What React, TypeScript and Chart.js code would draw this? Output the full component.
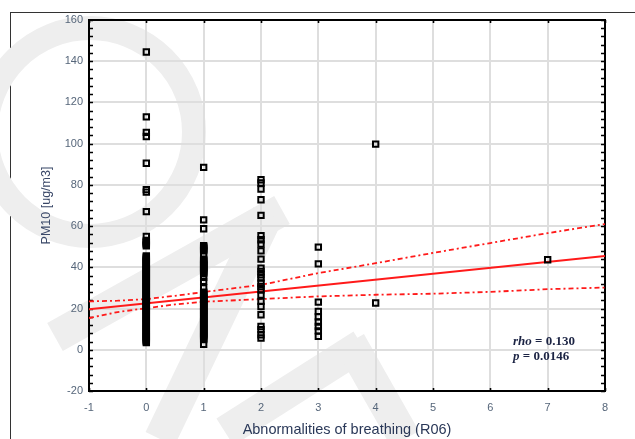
import React, { useEffect, useRef } from 'react';
import { Chart, registerables } from 'chart.js';

Chart.register(...registerables);

// ---- Data ----
const xTickValues = [-1, 0, 1, 2, 3, 4, 5, 6, 7, 8];
const yTickValues = [-20, 0, 20, 40, 60, 80, 100, 120, 140, 160];

const pm10AtR0 = [144.5, 113, 105.5, 103.5, 90.5, 77.7, 76.5, 67,
  55, 53, 52.5, 52, 51.5, 51, 50.5,
  45.5, 45, 44.5, 44, 43.5, 43, 42.5, 42, 41.5, 41, 40.5, 40, 39.5, 39, 38.5, 38,
  37.5, 37, 36.5, 36, 35.5, 35, 34.5, 34, 33.5, 33, 32.5, 32, 31.5, 31, 30.5, 30,
  29.5, 29, 28.5, 28, 27.5, 27, 26.5, 26, 25.5, 25, 24.5, 24, 23.5, 23, 22.5, 22,
  21.5, 21, 20.5, 20, 19.5, 19, 18.5, 18, 17.5, 17, 16.5, 16, 15.5, 15, 14.5, 14,
  13.5, 13, 12.5, 12, 11.5, 11, 10.5, 10, 9.5, 9, 8.5, 8, 7.5, 7, 6.5, 6, 5.5, 5,
  4.5, 4, 3.5];
const pm10AtR1 = [88.5, 63, 58.7,
  50.5, 50, 49.5, 49, 48.5, 48, 46,
  44, 43.5, 43, 42.5, 42, 41.5, 41, 40.5, 40, 39.5, 39, 38.5, 38, 37.5, 37,
  35.2, 33.2, 30,
  28, 27.5, 27, 26.5, 26, 25.5, 25, 24.5, 24, 23.5, 23, 22.5, 22, 21.5, 21, 20.5,
  20, 19.5, 19, 18.5, 18, 17.5, 17, 16.5, 16, 15.5, 15, 14.5, 14, 13.5, 13, 12.5,
  12, 11.5, 11, 10.5, 10, 9.5, 9, 8.5, 8, 7.5, 7, 6.5, 6, 5.5, 5, 2.6];
const pm10AtR2 = [82.5, 80.9, 78, 72.8, 65.2, 55.3, 53.4, 51.3, 48, 44, 39.6, 38,
  36.4, 34.8, 32.4, 30.7, 29.1, 26.5, 23.5, 21, 17, 11.3, 9.7, 7.3, 5.7];
const pm10AtR3 = [49.8, 41.7, 23.1, 18.6, 16, 13.5, 11.3, 9.2, 6.5];
const pm10AtR4 = [99.8, 22.7];
const pm10AtR7 = [43.7];

const regX = [-1, 8];
const regY = [19.6, 45.5];

const bandX = [-1, -0.5, 0, 0.5, 1, 2, 3, 4, 5, 6, 7, 8];
const bandUpper = [23.5, 23.8, 24.6, 26.2, 28, 31.5, 37.2, 42, 47, 51.8, 56.6, 61];
const bandLower = [15.4, 18.3, 20.2, 22.0, 23.3, 24.6, 25.9, 26.7, 27.2, 28.1, 29.4, 30.2];

const xTitle = 'Abnormalities of breathing (R06)';
const yTitle = 'PM10 [ug/m3]';
const statLines = [['rho', ' = 0.130'], ['p', ' = 0.0146']];

const FONT = '"Liberation Sans", Arial, sans-serif';

const toPts = (x: number, ys: number[]) => ys.map((y) => ({ x, y }));

const watermarkPlugin = {
  id: 'watermark',
  beforeDraw(chart: any) {
    const ctx = chart.ctx;
    ctx.save();
    ctx.strokeStyle = '#eeeeee';
    ctx.lineCap = 'butt';
    ctx.lineWidth = 24;
    ctx.beginPath();
    ctx.arc(90, 132, 104, 0, Math.PI * 2);
    ctx.stroke();
    ctx.lineWidth = 32;
    const strokes = [
      [[55, 337], [282, 210]],
      [[268, 214], [160, 439]],
      [[225, 432], [362, 345]],
      [[350, 342], [405, 439]],
    ];
    strokes.forEach(([a, b]) => {
      ctx.beginPath();
      ctx.moveTo(a[0], a[1]);
      ctx.lineTo(b[0], b[1]);
      ctx.stroke();
    });
    ctx.restore();
  },
};

const framePlugin = {
  id: 'frameTicks',
  beforeDatasetsDraw(chart: any) {
    const { ctx, chartArea: ca, scales } = chart;
    const xs = scales.x;
    const ys = scales.y;
    ctx.save();
    ctx.strokeStyle = '#000';
    ctx.lineWidth = 1.6;
    for (let v = ys.min; v <= ys.max + 0.001; v += 4) {
      const py = Math.round(ys.getPixelForValue(v)) + 0.5;
      ctx.beginPath();
      ctx.moveTo(ca.left, py);
      ctx.lineTo(ca.left + 4, py);
      ctx.moveTo(ca.right, py);
      ctx.lineTo(ca.right - 4, py);
      ctx.stroke();
    }
    xTickValues.forEach((v) => {
      const px = Math.round(xs.getPixelForValue(v)) + 0.5;
      ctx.beginPath();
      ctx.moveTo(px, ca.bottom);
      ctx.lineTo(px, ca.bottom - 3);
      ctx.moveTo(px, ca.top);
      ctx.lineTo(px, ca.top + 3);
      ctx.stroke();
    });
    ctx.lineWidth = 2;
    ctx.strokeRect(ca.left, ca.top, ca.right - ca.left, ca.bottom - ca.top);
    ctx.restore();
  },
  afterDraw(chart: any) {
    const { ctx, chartArea: ca } = chart;
    ctx.save();
    ctx.fillStyle = '#1c2444';
    ctx.textBaseline = 'alphabetic';
    statLines.forEach(([a, b], i) => {
      const x0 = ca.right - 92;
      const y0 = ca.bottom - 46 + i * 14.5;
      ctx.font = 'italic bold 13px "Liberation Serif", "Times New Roman", serif';
      ctx.fillText(a, x0, y0);
      const w = ctx.measureText(a).width;
      ctx.font = 'bold 13px "Liberation Serif", "Times New Roman", serif';
      ctx.fillText(b, x0 + w, y0);
    });
    ctx.restore();
  },
};

export default function App() {
  const canvasRef = useRef<HTMLCanvasElement | null>(null);

  useEffect(() => {
    if (!canvasRef.current) return;
    const pointStyle = {
      type: 'scatter' as const,
      pointStyle: 'rect',
      pointRadius: 3.8,
      pointHoverRadius: 3.8,
      pointBorderWidth: 2,
      pointBorderColor: '#000',
      pointBackgroundColor: 'rgba(255,255,255,0)',
      showLine: false,
      order: 0,
    };
    const chart = new Chart(canvasRef.current, {
      type: 'scatter',
      data: {
        datasets: [
          { ...pointStyle, label: 'R0', data: toPts(0, pm10AtR0) },
          { ...pointStyle, label: 'R1', data: toPts(1, pm10AtR1) },
          { ...pointStyle, label: 'R2', data: toPts(2, pm10AtR2) },
          { ...pointStyle, label: 'R3', data: toPts(3, pm10AtR3) },
          { ...pointStyle, label: 'R4', data: toPts(4, pm10AtR4) },
          { ...pointStyle, label: 'R7', data: toPts(7, pm10AtR7) },
          {
            type: 'line' as const,
            label: 'fit',
            data: regX.map((x, i) => ({ x, y: regY[i] })),
            borderColor: '#ff1a1a',
            borderWidth: 2,
            pointRadius: 0,
            fill: false,
            order: 1,
          },
          {
            type: 'line' as const,
            label: 'upper',
            data: bandX.map((x, i) => ({ x, y: bandUpper[i] })),
            borderColor: '#ff1a1a',
            borderWidth: 1.8,
            borderDash: [5, 3, 2, 3],
            pointRadius: 0,
            fill: false,
            order: 1,
          },
          {
            type: 'line' as const,
            label: 'lower',
            data: bandX.map((x, i) => ({ x, y: bandLower[i] })),
            borderColor: '#ff1a1a',
            borderWidth: 1.8,
            borderDash: [5, 3, 2, 3],
            pointRadius: 0,
            fill: false,
            order: 1,
          },
        ],
      },
      options: {
        responsive: false,
        animation: false,
        events: [],
        layout: { padding: { top: 20, right: 30, left: 0, bottom: 0 } },
        plugins: {
          legend: { display: false },
          tooltip: { enabled: false },
        },
        scales: {
          x: {
            type: 'linear',
            min: -1,
            max: 8,
            afterBuildTicks: (s: any) => {
              s.ticks = xTickValues.map((v) => ({ value: v }));
            },
            afterFit: (s: any) => {
              s.height = 48;
            },
            grid: { color: '#dedede', lineWidth: 2, drawTicks: false },
            border: { display: false },
            ticks: {
              padding: 10,
              color: '#56667a',
              font: { family: FONT, size: 11 },
              maxRotation: 0,
            },
            title: {
              display: true,
              text: xTitle,
              color: '#2a3858',
              font: { family: FONT, size: 14.5 },
              padding: { top: 0, bottom: 0 },
            },
          },
          y: {
            type: 'linear',
            min: -20,
            max: 160,
            afterBuildTicks: (s: any) => {
              s.ticks = yTickValues.map((v) => ({ value: v }));
            },
            afterFit: (s: any) => {
              s.width = 89;
            },
            grid: { color: '#dedede', lineWidth: 2, drawTicks: false },
            border: { display: false },
            ticks: {
              padding: 6,
              color: '#56667a',
              font: { family: FONT, size: 11 },
            },
            title: {
              display: true,
              text: yTitle,
              color: '#3a4868',
              font: { family: FONT, size: 12.5 },
              padding: { top: 39, bottom: 0 },
            },
          },
        },
      },
      plugins: [watermarkPlugin, framePlugin],
    } as any);
    return () => chart.destroy();
  }, []);

  return (
    <div style={{ position: 'fixed', left: 0, top: 0, width: 635, height: 439, background: '#fff' }}>
      <div
        style={{
          position: 'absolute',
          left: 10,
          top: 12,
          right: 0,
          bottom: 0,
          borderTop: '1px solid #333',
          borderLeft: '1px solid #333',
        }}
      />
      <canvas
        ref={canvasRef}
        width={635}
        height={439}
        style={{ position: 'absolute', left: 0, top: 0, width: 635, height: 439 }}
      />
    </div>
  );
}
